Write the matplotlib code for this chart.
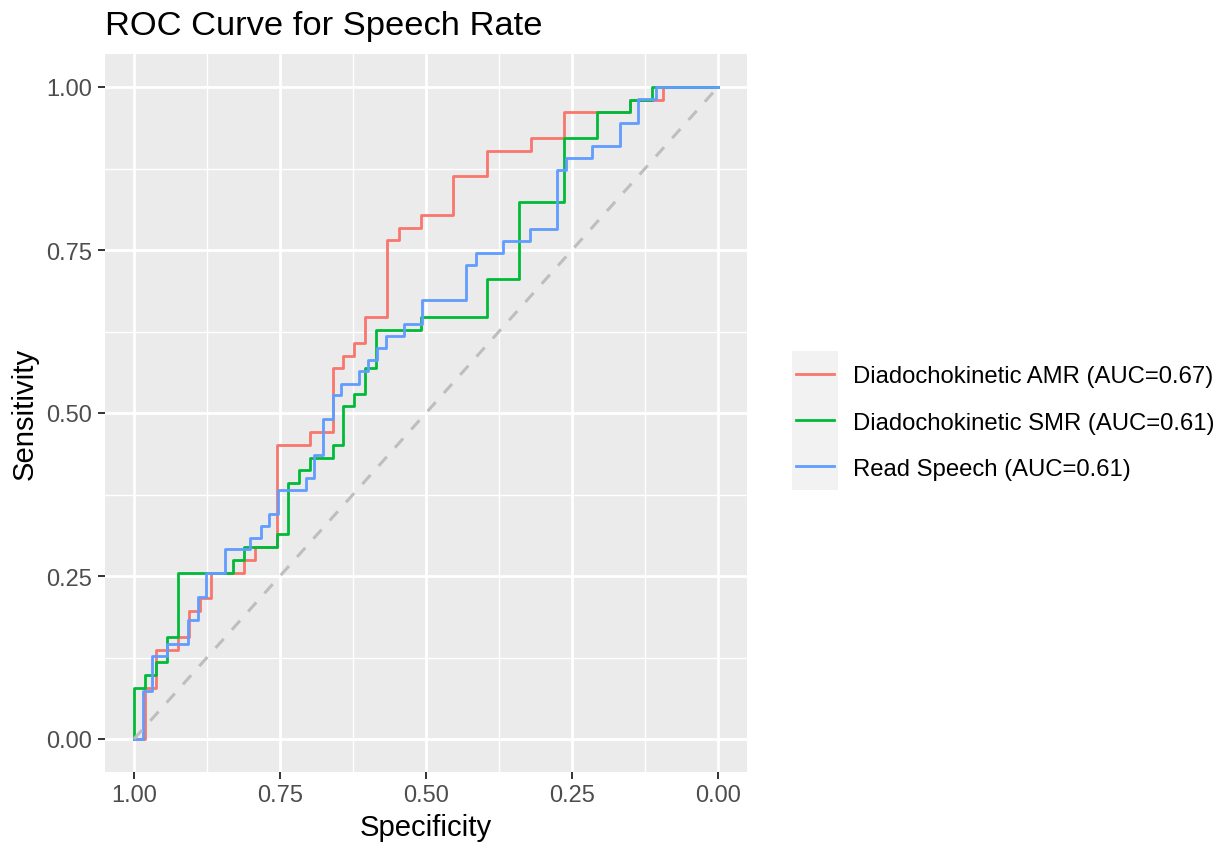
import matplotlib
matplotlib.use("Agg")
import matplotlib.pyplot as plt
from matplotlib.patches import Rectangle
import numpy as np

plt.rcParams["font.family"] = ["Liberation Sans", "DejaVu Sans"]

# ROC step curves: specificity at each step and sensitivity held from that step on
amr_spec = [1.000, 0.981, 0.962, 0.925, 0.906, 0.887, 0.868, 0.811, 0.792, 0.755,
            0.698, 0.660, 0.642, 0.623, 0.604, 0.566, 0.547, 0.509, 0.453, 0.396,
            0.321, 0.264, 0.151, 0.094, 0.000]
amr_sens = [0.000, 0.078, 0.137, 0.157, 0.196, 0.216, 0.255, 0.275, 0.294, 0.451,
            0.471, 0.569, 0.588, 0.608, 0.647, 0.765, 0.784, 0.804, 0.863, 0.902,
            0.922, 0.961, 0.980, 1.000, 1.000]

smr_spec = [1.000, 1.000, 0.981, 0.962, 0.943, 0.925, 0.830, 0.811, 0.755, 0.736,
            0.717, 0.698, 0.660, 0.642, 0.623, 0.604, 0.585, 0.509, 0.396, 0.340,
            0.264, 0.208, 0.151, 0.113, 0.000]
smr_sens = [0.000, 0.078, 0.098, 0.118, 0.157, 0.255, 0.275, 0.294, 0.314, 0.392,
            0.412, 0.431, 0.451, 0.510, 0.529, 0.569, 0.627, 0.647, 0.706, 0.824,
            0.922, 0.961, 0.980, 1.000, 1.000]

read_spec = [1.000, 0.985, 0.969, 0.943, 0.907, 0.891, 0.876, 0.845, 0.801, 0.783,
             0.768, 0.753, 0.705, 0.692, 0.676, 0.660, 0.646, 0.615, 0.599, 0.584,
             0.568, 0.537, 0.507, 0.431, 0.414, 0.368, 0.322, 0.276, 0.261, 0.215,
             0.168, 0.137, 0.107, 0.000]
read_sens = [0.000, 0.073, 0.127, 0.145, 0.182, 0.218, 0.255, 0.291, 0.309, 0.327,
             0.345, 0.382, 0.400, 0.436, 0.491, 0.527, 0.545, 0.564, 0.582, 0.600,
             0.618, 0.636, 0.673, 0.727, 0.745, 0.764, 0.782, 0.873, 0.891, 0.909,
             0.945, 0.982, 1.000, 1.000]

series_labels = ["Diadochokinetic AMR (AUC=0.67)",
                 "Diadochokinetic SMR (AUC=0.61)",
                 "Read Speech (AUC=0.61)"]
series_colors = ["#F8766D", "#00BA38", "#619CFF"]
tick_values = [0.00, 0.25, 0.50, 0.75, 1.00]
minor_values = [0.125, 0.375, 0.625, 0.875]
chance_spec = [1.0, 0.0]
chance_sens = [0.0, 1.0]

W, H = 1225, 845
fig = plt.figure(figsize=(W / 100, H / 100), dpi=100)
fig.patch.set_facecolor("white")

# panel in pixel terms
px_l, px_r, px_t, px_b = 104.8, 747.2, 55.4, 772.6
ax = fig.add_axes([px_l / W, 1 - px_b / H, (px_r - px_l) / W, (px_b - px_t) / H])
ax.set_facecolor("#EBEBEB")
for s in ax.spines.values():
    s.set_visible(False)

ax.set_xlim(1.05, -0.05)
ax.set_ylim(-0.05, 1.05)
ax.set_xticks(tick_values)
ax.set_yticks(tick_values)
ax.set_xticklabels([f"{v:.2f}" for v in tick_values])
ax.set_yticklabels([f"{v:.2f}" for v in tick_values])
ax.set_xticks(minor_values, minor=True)
ax.set_yticks(minor_values, minor=True)
ax.tick_params(which="major", length=5, width=1.4, color="#333333",
               labelsize=17.0, labelcolor="#4D4D4D", pad=4)
ax.tick_params(which="minor", length=0)
ax.grid(which="major", color="white", linewidth=2.0)
ax.grid(which="minor", color="white", linewidth=1.0)
ax.set_axisbelow(True)

curves = [(amr_spec, amr_sens), (smr_spec, smr_sens), (read_spec, read_sens)]
for (sp, se), col in zip(curves, series_colors):
    ax.step(sp, se, where="post", color=col, linewidth=2.0, zorder=3)

ax.plot(chance_spec, chance_sens, color="#BEBEBE", linewidth=2.2,
        linestyle=(0, (4, 4)), zorder=4)

# title and axis titles
fig.text(px_l / W, 1 - 35 / H, "ROC Curve for Speech Rate", fontsize=24.8,
         ha="left", va="baseline", color="black")
fig.text((px_l + px_r) / 2 / W, 1 - 836 / H, "Specificity", fontsize=21.1,
         ha="center", va="baseline", color="black")
fig.text(25 / W, 1 - (px_t + px_b) / 2 / H, "Sensitivity", fontsize=21.1,
         ha="center", va="center", rotation=90, color="black")

# legend drawn by hand
key_l, key_r, key_t, key_h = 791.7, 838.3, 351.7, 46.3
for i, (lab, col) in enumerate(zip(series_labels, series_colors)):
    top = key_t + i * key_h
    fig.add_artist(Rectangle((key_l / W, 1 - (top + key_h) / H),
                             (key_r - key_l) / W, key_h / H,
                             transform=fig.transFigure, facecolor="#F2F2F2",
                             edgecolor="none"))
    cy = top + key_h / 2
    fig.add_artist(plt.Line2D([796 / W, 833.5 / W], [1 - cy / H, 1 - cy / H],
                              transform=fig.transFigure, color=col, linewidth=2.0))
    fig.text(853.3 / W, 1 - (cy + 2.5) / H, lab, fontsize=17.2,
             ha="left", va="center", color="black")

fig.savefig("out.png", dpi=100)
